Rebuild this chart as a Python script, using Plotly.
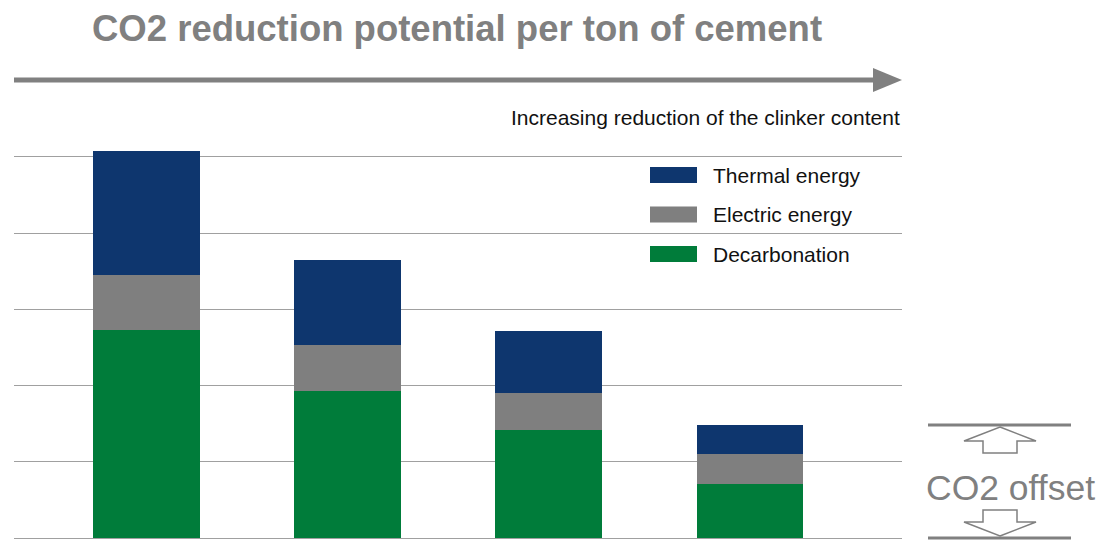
import plotly.graph_objects as go

# values (t CO2 per t cement, arbitrary units)
categories = ["A", "B", "C", "D"]
decarbonation = [2.73, 1.93, 1.42, 0.71]
electric_energy = [0.72, 0.60, 0.48, 0.39]
thermal_energy = [1.63, 1.12, 0.82, 0.38]

series_names = ["Decarbonation", "Electric energy", "Thermal energy"]
series_colors = ["#007C3A", "#7F7F7F", "#0E366E"]

OFF = 8  # page body margin in the browser
W, H = 1106 - OFF, 540 - OFF
L, R, T, B = 14 - OFF, 902 - OFF, 134 - OFF, 538 - OFF  # plot area in figure pixels
YMAX = 5.30


def px_x(x):
    # reference pixel -> paper
    return (x - OFF - L) / (R - L)


def px_y(y):
    return (B - (y - OFF)) / (B - T)


fig = go.Figure()
for name, vals, col in zip(series_names, [decarbonation, electric_energy, thermal_energy], series_colors):
    fig.add_trace(go.Bar(x=list(range(len(categories))), y=vals, name=name,
                         marker_color=col, marker_line_width=0, width=0.53,
                         showlegend=False))

shapes = []
annotations = []
font = "Liberation Sans, Arial"

# top arrow
shapes.append(dict(type="line", xref="paper", yref="paper",
                   x0=px_x(14), x1=px_x(876), y0=px_y(80), y1=px_y(80),
                   line=dict(color="#808080", width=5)))
shapes.append(dict(type="path", xref="paper", yref="paper",
                   path=f"M {px_x(873)} {px_y(68)} L {px_x(902)} {px_y(80)} L {px_x(873)} {px_y(92)} Z",
                   fillcolor="#808080", line=dict(width=0)))

# legend drawn by hand (wide swatches)
for i, (name, col) in enumerate(zip(series_names[::-1], series_colors[::-1])):
    yc = 175 + i * 39.5
    shapes.append(dict(type="rect", xref="paper", yref="paper",
                       x0=px_x(650), x1=px_x(697), y0=px_y(yc - 8), y1=px_y(yc + 8),
                       fillcolor=col, line=dict(width=0)))
    annotations.append(dict(x=px_x(711), y=px_y(yc), xref="paper", yref="paper",
                            text=name, showarrow=False, xanchor="left", yanchor="middle",
                            font=dict(family=font, size=21, color="#111111")))

# CO2 offset marker
grey = "#808080"
for yy in [425, 538]:
    shapes.append(dict(type="line", xref="paper", yref="paper",
                       x0=px_x(928), x1=px_x(1071), y0=px_y(yy), y1=px_y(yy),
                       line=dict(color=grey, width=3)))
up = [(1000, 427), (1036, 441), (1017, 441), (1017, 453), (983, 453), (983, 441), (964, 441)]
down = [(1000, 536), (1036, 522), (1017, 522), (1017, 510), (983, 510), (983, 522), (964, 522)]
for pts in [up, down]:
    path = "M " + " L ".join(f"{px_x(a)} {px_y(b)}" for a, b in pts) + " Z"
    shapes.append(dict(type="path", xref="paper", yref="paper", path=path,
                       fillcolor="white", line=dict(color=grey, width=1.5)))
annotations.append(dict(x=px_x(1011), y=px_y(488), xref="paper", yref="paper",
                        text="CO2 offset", showarrow=False, xanchor="center", yanchor="middle",
                        font=dict(family=font, size=35.5, color=grey)))

# title and subtitle
annotations.append(dict(x=px_x(457), y=px_y(28), xref="paper", yref="paper",
                        text="<b>CO2 reduction potential per ton of cement</b>", showarrow=False,
                        xanchor="center", yanchor="middle",
                        font=dict(family=font, size=36.5, color=grey)))
annotations.append(dict(x=1, y=px_y(118), xref="paper", yref="paper",
                        text="Increasing reduction of the clinker content", showarrow=False,
                        xanchor="right", yanchor="middle",
                        font=dict(family=font, size=21, color="#111111")))

fig.update_layout(
    width=W, height=H,
    margin=dict(l=L, r=W - R, t=T, b=H - B, pad=0),
    barmode="stack",
    plot_bgcolor="white", paper_bgcolor="white",
    shapes=shapes, annotations=annotations,
    showlegend=False,
)
fig.update_xaxes(range=[-0.657, 3.756], showticklabels=False, showgrid=False,
                 zeroline=False, showline=False, ticks="")
fig.update_yaxes(range=[0, YMAX], dtick=1, showticklabels=False, showgrid=True,
                 gridcolor="#A0A0A0", gridwidth=1, zeroline=True, zerolinecolor="#A0A0A0",
                 zerolinewidth=1, ticks="")

fig.write_html("out.html")
